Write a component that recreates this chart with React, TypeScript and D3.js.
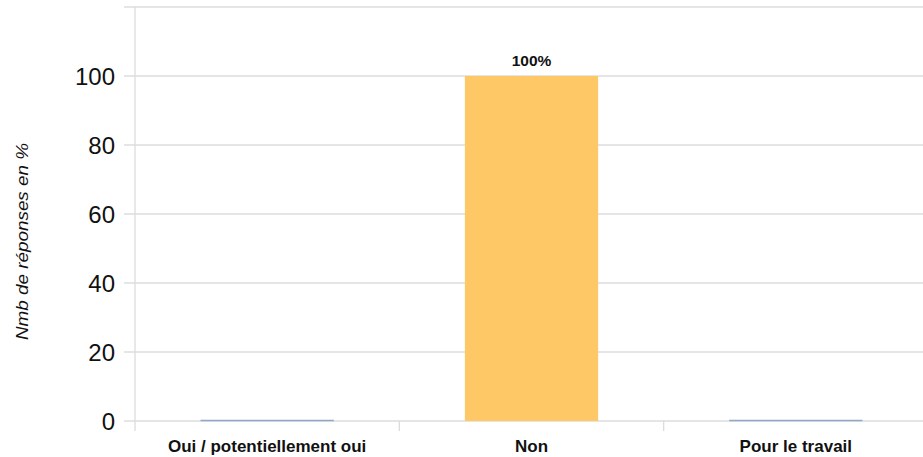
import React from "react";
import * as d3 from "d3";

const categories = ["Oui / potentiellement oui", "Non", "Pour le travail"];
const values = [0, 100, 0];
const valueLabels = ["", "100%", ""];
const yTicks = [0, 20, 40, 60, 80, 100];
const yTitle = "Nmb de réponses en %";

const W = 923;
const H = 457;
const margin = { left: 135, right: -5, top: 7, bottom: 36 };

export default function App() {
  const x = d3
    .scaleBand<string>()
    .domain(categories)
    .range([margin.left, W - margin.right])
    .paddingInner(0)
    .paddingOuter(0);
  const y = d3
    .scaleLinear()
    .domain([0, 120])
    .range([H - margin.bottom, margin.top]);
  const gridTicks = [...yTicks, 120];
  const barW = x.bandwidth() * 0.504;
  const font = "'Liberation Sans', Arial, sans-serif";
  return (
    <svg
      width={W}
      height={H}
      style={{ position: "absolute", left: 0, top: 0, background: "#fff" }}
    >
      {gridTicks.map((t) => (
        <line
          key={"g" + t}
          x1={margin.left - 11}
          x2={W}
          y1={y(t)}
          y2={y(t)}
          stroke="#dcdcdc"
          strokeWidth={1.3}
        />
      ))}
      <line
        x1={margin.left}
        x2={margin.left}
        y1={y(120)}
        y2={y(0) + 10}
        stroke="#dcdcdc"
        strokeWidth={1.3}
      />
      {categories.slice(1).map((c) => (
        <line
          key={"t" + c}
          x1={x(c)!}
          x2={x(c)!}
          y1={y(0)}
          y2={y(0) + 10}
          stroke="#dcdcdc"
          strokeWidth={1.3}
        />
      ))}
      {categories.map((c, i) => {
        const cx = x(c)! + x.bandwidth() / 2;
        const v = values[i];
        return (
          <g key={c}>
            {v > 0 ? (
              <rect
                x={cx - barW / 2}
                y={y(v)}
                width={barW}
                height={y(0) - y(v)}
                fill="#FDC865"
              />
            ) : (
              <line
                x1={cx - barW / 2}
                x2={cx + barW / 2}
                y1={y(0) - 0.5}
                y2={y(0) - 0.5}
                stroke="#8FA8C8"
                strokeWidth={1.5}
              />
            )}
            {valueLabels[i] && (
              <text
                x={cx}
                y={y(v) - 10}
                textAnchor="middle"
                fontFamily={font}
                fontSize={15.5}
                fontWeight="bold"
                letterSpacing={0}
                fill="#111"
              >
                {valueLabels[i]}
              </text>
            )}
            <text
              x={cx}
              y={y(0) + 31}
              textAnchor="middle"
              fontFamily={font}
              fontSize={17}
              fontWeight="bold"
              fill="#111"
            >
              {c}
            </text>
          </g>
        );
      })}
      {yTicks.map((t) => (
        <text
          key={"l" + t}
          x={margin.left - 20}
          y={y(t)}
          dy="0.36em"
          textAnchor="end"
          fontFamily={font}
          fontSize={24}
          fill="#111"
        >
          {t}
        </text>
      ))}
      <text
        transform={`translate(28, ${241.5}) rotate(-90)`}
        textAnchor="middle"
        fontFamily={font}
        fontSize={16}
        fontStyle="italic"
        textLength={197}
        lengthAdjust="spacingAndGlyphs"
        fill="#111"
      >
        {yTitle}
      </text>
    </svg>
  );
}
